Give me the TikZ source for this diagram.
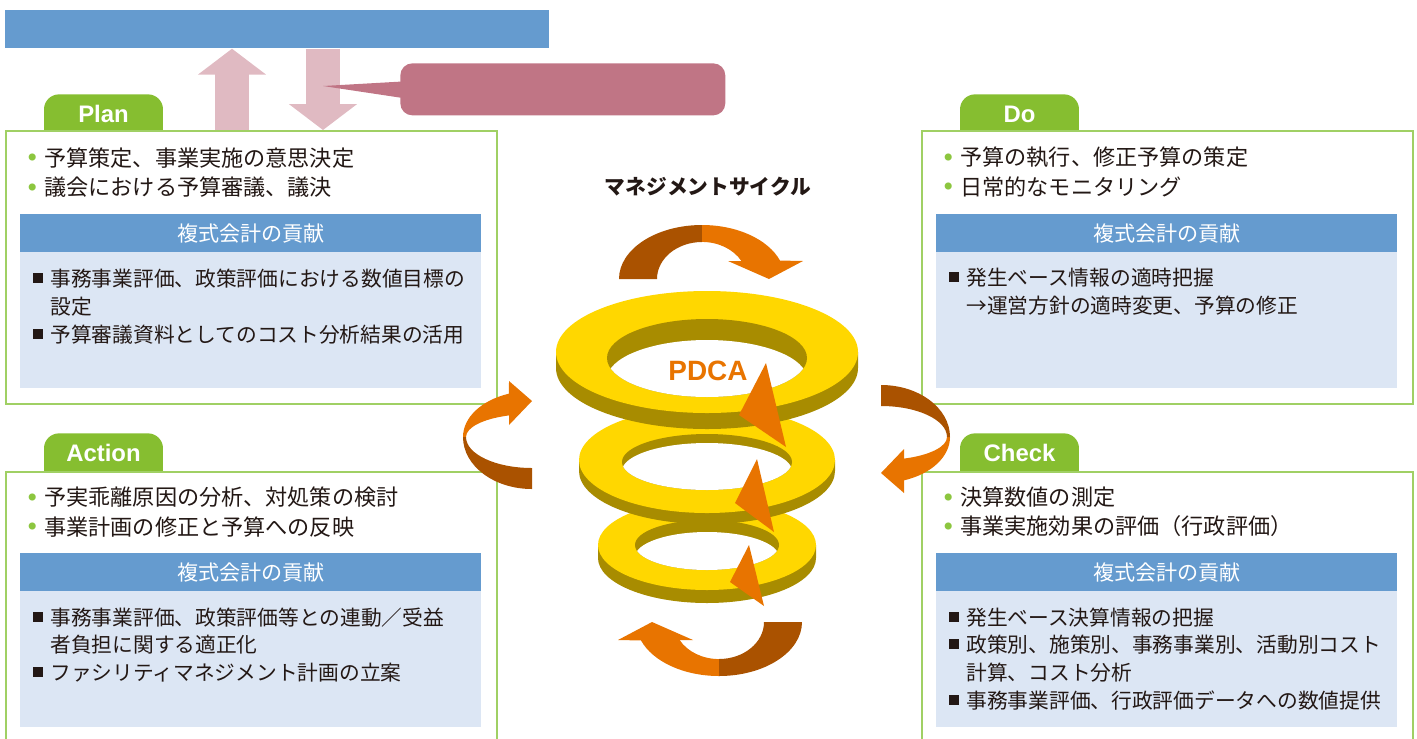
\documentclass[tikz,border=0pt]{standalone}
\usepackage{fontspec}
\setmainfont{Noto Sans CJK JP}
\newfontfamily\latinbold{Liberation Sans}
\usepackage{xcolor}
\definecolor{barblue}{RGB}{101,155,207}
\definecolor{paleblue}{RGB}{220,230,244}
\definecolor{tabgreen}{RGB}{134,190,48}
\definecolor{linegreen}{RGB}{160,208,100}
\definecolor{dotgreen}{RGB}{140,198,63}
\definecolor{pinkarrow}{RGB}{224,186,194}
\definecolor{rose}{RGB}{192,117,133}
\definecolor{ringtop}{RGB}{255,215,0}
\definecolor{ringside}{RGB}{168,140,0}
\definecolor{pdcaorange}{RGB}{232,116,0}
\definecolor{pdcabrown}{RGB}{170,82,0}
\definecolor{inkblack}{RGB}{35,24,21}
\usetikzlibrary{arrows.meta}

\newcommand\gdot{\makebox[0.32cm][l]{\raisebox{0.11cm}{\color{dotgreen}\fontsize{4.5}{4.5}\selectfont ●}}}
\newcommand\sqmark{\rule[0.07cm]{0.2cm}{0.2cm}\hspace{0.14cm}}
\newcommand\sqgap{\hspace*{0.34cm}}

\tikzset{
    panel/.style={draw=linegreen, line width=1.1pt, fill=white, minimum width=9.82cm, anchor=north west, inner sep=0pt},
    tab/.style={fill=tabgreen, rounded corners=0.3cm, minimum width=2.38cm, text height=0.56cm, text depth=0.48cm, inner ysep=0pt, anchor=north, text=white, font=\latinbold\bfseries\fontsize{13.6}{14}\selectfont},
    header/.style={fill=barblue, minimum width=9.22cm, minimum height=0.76cm, inner sep=0pt, anchor=north west, text=white, font=\fontsize{12}{12}\selectfont},
    body/.style={fill=paleblue, minimum width=9.22cm, minimum height=2.72cm, inner sep=0pt, anchor=north west},
    points/.style={anchor=west, align=left, inner sep=0pt, text=inkblack, font=\fontsize{12.6}{16.7}\selectfont},
    items/.style={anchor=west, align=left, inner sep=0pt, text=inkblack, font=\fontsize{11.8}{15.9}\selectfont},
    blockarrow/.style={pinkarrow, line width=0.68cm, -{Triangle[width=1.34cm, length=0.52cm]}}
}

\begin{document}
\begin{tikzpicture}[x=0.02cm, y=0.02cm]
    \useasboundingbox (0,0) rectangle (1417,-738);
    \clip (0,0) rectangle (1417,-738);

    % top bar and callout
    \node[fill=barblue, minimum width=10.88cm, minimum height=0.76cm, inner sep=0pt, anchor=north west] (govbar) at (5,-10) {};
    \node[fill=rose, rounded corners=0.24cm, minimum width=6.5cm, minimum height=1.04cm, inner sep=0pt, anchor=north west] (note) at (400,-63) {};

    % tabs
    \node[tab] (plantab) at (103.5,-94)  {Plan};
    \node[tab] (dotab)   at (1019.5,-94) {Do};
    \node[tab] (acttab)  at (103.5,-433) {Action};
    \node[tab] (chktab)  at (1019.5,-433) {Check};

    % panels
    \node[panel, minimum height=5.46cm] (planpanel) at (5,-130)   {};
    \node[panel, minimum height=5.46cm] (dopanel)   at (921,-130) {};
    \node[panel, minimum height=6cm]    (actpanel)  at (5,-471)   {};
    \node[panel, minimum height=6cm]    (chkpanel)  at (921,-471) {};

    \node[header] (planhead) at (20,-214)  {複式会計の貢献};
    \node[header] (dohead)   at (936,-214) {複式会計の貢献};
    \node[header] (acthead)  at (20,-553)  {複式会計の貢献};
    \node[header] (chkhead)  at (936,-553) {複式会計の貢献};

    \node[body] (planbody) at (20,-252)  {};
    \node[body] (dobody)   at (936,-252) {};
    \node[body] (actbody)  at (20,-591)  {};
    \node[body] (chkbody)  at (936,-591) {};

    % texts
    \node[points] (planpts) at (28,-172.5) {\gdot 予算策定、事業実施の意思決定\\\gdot 議会における予算審議、議決};
    \node[items] (planitems) at (33,-307) {\sqmark 事務事業評価、政策評価における数値目標の\\\sqgap 設定\\\sqmark 予算審議資料としてのコスト分析結果の活用};

    \node[points] (dopts) at (944,-172) {\gdot 予算の執行、修正予算の策定\\\gdot 日常的なモニタリング};
    \node[items] (doitems) at (949,-291.5) {\sqmark 発生ベース情報の適時把握\\\sqgap →運営方針の適時変更、予算の修正};

    \node[points] (actpts) at (28,-512) {\gdot 予実乖離原因の分析、対処策の検討\\\gdot 事業計画の修正と予算への反映};
    \node[items] (actitems) at (33,-645) {\sqmark 事務事業評価、政策評価等との連動／受益\\\sqgap 者負担に関する適正化\\\sqmark ファシリティマネジメント計画の立案};

    \node[points] (chkpts) at (944,-512) {\gdot 決算数値の測定\\\gdot 事業実施効果の評価（行政評価）};
    \node[items] (chkitems) at (949,-659) {\sqmark 発生ベース決算情報の把握\\\sqmark 政策別、施策別、事務事業別、活動別コスト\\\sqgap 計算、コスト分析\\\sqmark 事務事業評価、行政評価データへの数値提供};

    % block arrows
    \coordinate (upx) at (232,0);
    \coordinate (dnx) at (323,0);
    \coordinate (notetip) at (323,-86);
    \draw[blockarrow] (planpanel.north -| upx) -- (govbar.south -| upx);
    \draw[blockarrow] (govbar.south -| dnx) -- (planpanel.north -| dnx);
    \fill[rose] ([xshift=0.1cm,yshift=0.16cm]note.west) -- (notetip) -- ([xshift=0.1cm,yshift=-0.18cm]note.west) -- cycle;

    \node[font=\bfseries\fontsize{11.8}{12}\selectfont, text=inkblack] (cycletitle) at (708,-187) {マネジメントサイクル};

    % ring 3
    \fill[ringside] (598,-545) -- (598,-558) arc[start angle=180, end angle=360, x radius=109, y radius=45] -- (816,-545) -- cycle;
    \fill[ringtop] (707,-545) ellipse[x radius=109, y radius=45];
    \fill[ringside] (707,-545) ellipse[x radius=72, y radius=25];
    \begin{scope}
        \clip (707,-545) ellipse[x radius=72, y radius=25];
        \fill[white] (707,-557) ellipse[x radius=72, y radius=25];
    \end{scope}
    % ring 2
    \fill[ringside] (579,-460) -- (579,-471) arc[start angle=180, end angle=360, x radius=128, y radius=53] -- (835,-460) -- cycle;
    \fill[ringtop] (707,-460) ellipse[x radius=128, y radius=53];
    \fill[ringside] (707,-462) ellipse[x radius=85, y radius=28];
    \begin{scope}
        \clip (707,-462) ellipse[x radius=85, y radius=28];
        \fill[white] (707,-471) ellipse[x radius=85, y radius=28];
    \end{scope}
    % ring 1
    \fill[ringside] (556,-352) -- (556,-368) arc[start angle=180, end angle=360, x radius=151, y radius=61] -- (858,-352) -- cycle;
    \fill[ringtop] (707,-352) ellipse[x radius=151, y radius=61];
    \fill[ringside] (707,-358) ellipse[x radius=100, y radius=39];
    \begin{scope}
        \clip (707,-358) ellipse[x radius=100, y radius=39];
        \fill[white] (707,-379) ellipse[x radius=100, y radius=39];
    \end{scope}

    \node[font=\latinbold\bfseries\fontsize{15.9}{16}\selectfont, text=pdcaorange] (pdca) at (708,-371) {PDCA};

    \fill[pdcaorange] (766,-363) -- (739,-415) -- (786,-447) -- cycle;
    \fill[pdcaorange] (757,-459) -- (735,-503) -- (774,-532) -- cycle;
    \fill[pdcaorange] (749,-545) -- (730,-582) -- (764,-606) -- cycle;

    % curved arrows, top and bottom
    \fill[pdcabrown] (619,-279) arc[start angle=180, end angle=90, x radius=83, y radius=54] -- (702,-242) arc[start angle=90, end angle=180, x radius=45, y radius=37] -- cycle;
    \fill[pdcaorange] (702,-225) arc[start angle=90, end angle=20, x radius=83, y radius=54] -- (803,-261) -- (769,-279) -- (728,-261) -- (741.4,-261) arc[start angle=29, end angle=90, x radius=45, y radius=37] -- cycle;
    \begin{scope}[rotate around={180:(710.5,-450.5)}]
        \fill[pdcabrown] (619,-279) arc[start angle=180, end angle=90, x radius=83, y radius=54] -- (702,-242) arc[start angle=90, end angle=180, x radius=45, y radius=37] -- cycle;
        \fill[pdcaorange] (702,-225) arc[start angle=90, end angle=20, x radius=83, y radius=54] -- (803,-261) -- (769,-279) -- (728,-261) -- (741.4,-261) arc[start angle=29, end angle=90, x radius=45, y radius=37] -- cycle;
    \end{scope}

    % curved arrows, left and right
    \fill[pdcaorange] (509,-381) -- (532,-401) -- (509,-425) -- (509,-415.4) arc[start angle=110.4, end angle=180, x radius=66, y radius=23] -- (463,-437) arc[start angle=180, end angle=109.5, x radius=69, y radius=46] -- cycle;
    \fill[pdcabrown] (463,-437) arc[start angle=180, end angle=270, x radius=69, y radius=52] -- (532,-468) arc[start angle=270, end angle=180, x radius=66, y radius=31] -- cycle;
    \begin{scope}[rotate around={180:(706.5,-437)}]
        \fill[pdcaorange] (509,-381) -- (532,-401) -- (509,-425) -- (509,-415.4) arc[start angle=110.4, end angle=180, x radius=66, y radius=23] -- (463,-437) arc[start angle=180, end angle=109.5, x radius=69, y radius=46] -- cycle;
        \fill[pdcabrown] (463,-437) arc[start angle=180, end angle=270, x radius=69, y radius=52] -- (532,-468) arc[start angle=270, end angle=180, x radius=66, y radius=31] -- cycle;
    \end{scope}
\end{tikzpicture}
\end{document}
